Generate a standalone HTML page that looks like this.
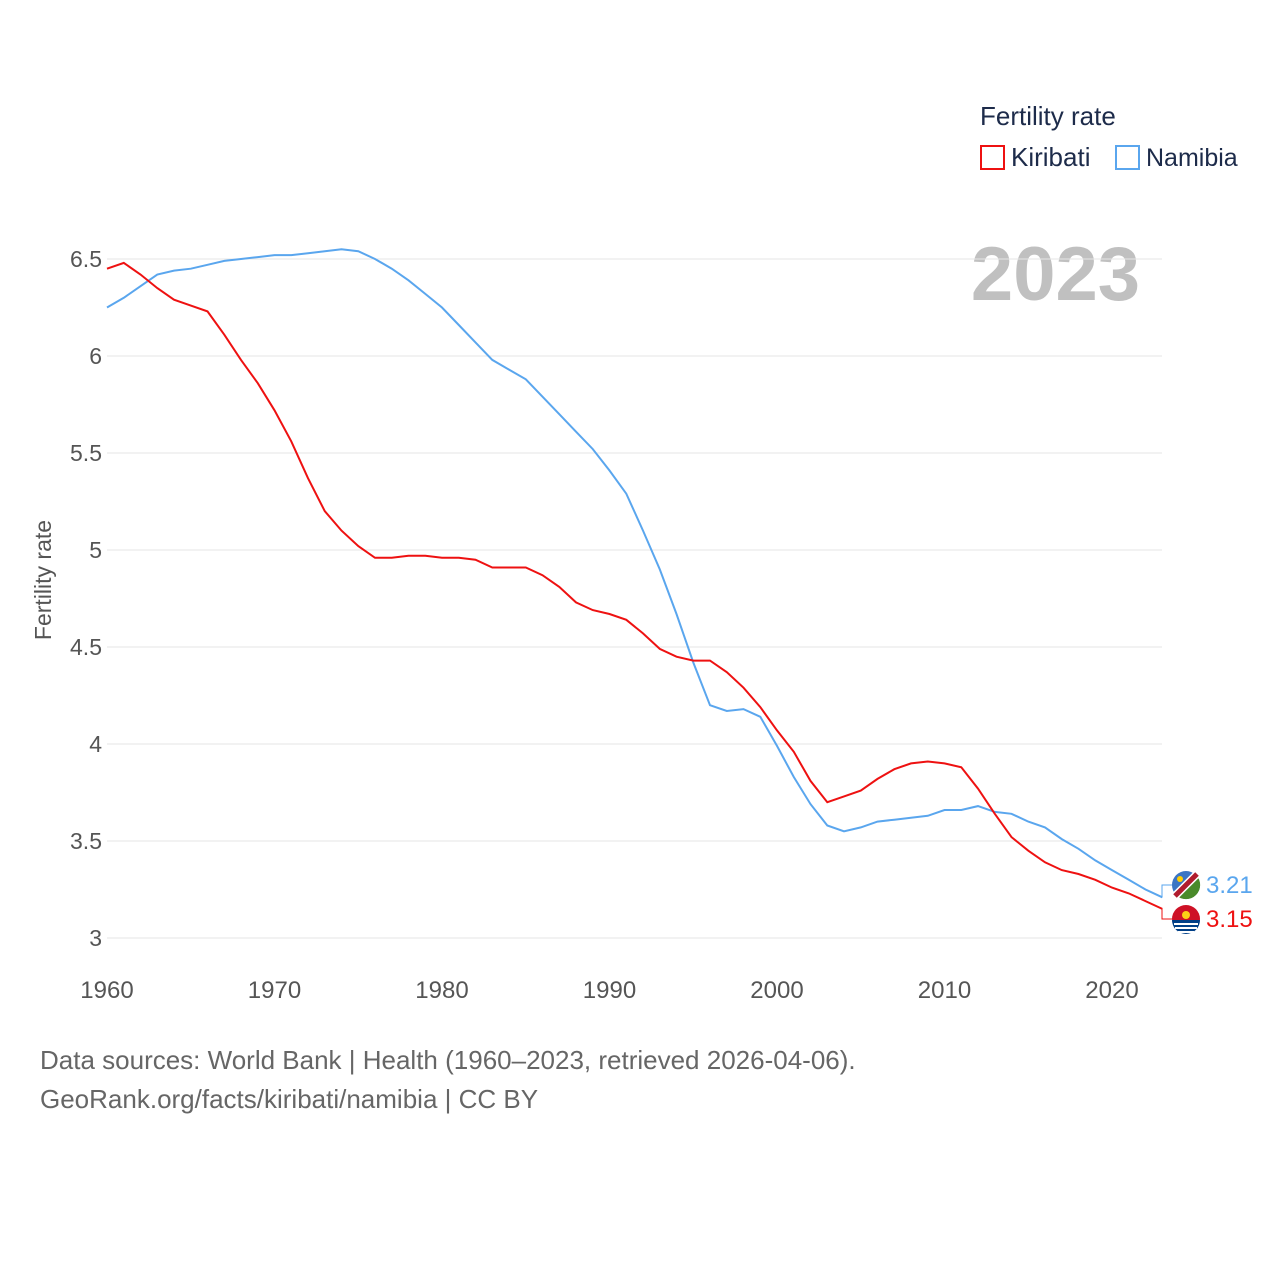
<!DOCTYPE html>
<html><head><meta charset="utf-8"><style>
html,body{margin:0;padding:0;background:#fff;}
body{width:1280px;height:1280px;overflow:hidden;font-family:"Liberation Sans",sans-serif;}
</style></head><body>
<svg id="chart" width="1280" height="1280" xmlns="http://www.w3.org/2000/svg" font-family="Liberation Sans, sans-serif">
<text x="980" y="125" font-size="26" fill="#1d2b4a">Fertility rate</text>
<g><rect x="981" y="146" width="23" height="23" fill="none" stroke="#ee1111" stroke-width="2"/><text x="1011" y="166" font-size="26" fill="#1d2b4a">Kiribati</text></g>
<g><rect x="1116" y="146" width="23" height="23" fill="none" stroke="#5aa6ee" stroke-width="2"/><text x="1146" y="166" font-size="25" fill="#1d2b4a">Namibia</text></g>
<text x="1140" y="300" font-size="76" font-weight="bold" fill="#c0c0c0" text-anchor="end">2023</text>
<g id="grid"></g>
<g id="yticks"></g>
<g id="xticks"></g>
<text transform="translate(51,580) rotate(-90)" font-size="23" fill="#555" text-anchor="middle">Fertility rate</text>
<g id="series"></g>
<g id="ends"></g>
<text x="40" y="1069" font-size="26" fill="#666">Data sources: World Bank | Health (1960–2023, retrieved 2026-04-06).</text>
<text x="40" y="1108" font-size="26" fill="#666">GeoRank.org/facts/kiribati/namibia | CC BY</text>
</svg>
<script>
const years=[];for(let y=1960;y<=2023;y++)years.push(y);
const kiribati=[6.45,6.48,6.42,6.35,6.29,6.26,6.23,6.11,5.98,5.86,5.72,5.56,5.37,5.20,5.10,5.02,4.96,4.96,4.97,4.97,4.96,4.96,4.95,4.91,4.91,4.91,4.87,4.81,4.73,4.69,4.67,4.64,4.57,4.49,4.45,4.43,4.43,4.37,4.29,4.19,4.07,3.96,3.81,3.70,3.73,3.76,3.82,3.87,3.90,3.91,3.90,3.88,3.77,3.64,3.52,3.45,3.39,3.35,3.33,3.30,3.26,3.23,3.19,3.15];
const namibia=[6.25,6.30,6.36,6.42,6.44,6.45,6.47,6.49,6.50,6.51,6.52,6.52,6.53,6.54,6.55,6.54,6.50,6.45,6.39,6.32,6.25,6.16,6.07,5.98,5.93,5.88,5.79,5.70,5.61,5.52,5.41,5.29,5.10,4.90,4.67,4.42,4.20,4.17,4.18,4.14,3.99,3.83,3.69,3.58,3.55,3.57,3.60,3.61,3.62,3.63,3.66,3.66,3.68,3.65,3.64,3.60,3.57,3.51,3.46,3.40,3.35,3.30,3.25,3.21];
const yTicks=[3,3.5,4,4.5,5,5.5,6,6.5];
const xTicks=[1960,1970,1980,1990,2000,2010,2020];
const NS="http://www.w3.org/2000/svg";
const X=v=>107+(v-1960)*(1005/60);
const Y=v=>938-(v-3)*194;
function mk(t,a,p){const e=document.createElementNS(NS,t);for(const k in a)e.setAttribute(k,a[k]);p.appendChild(e);return e;}
const grid=document.getElementById('grid'),yt=document.getElementById('yticks'),xt=document.getElementById('xticks');
yTicks.forEach(v=>{
 const l=mk('line',{x1:107,x2:1162,y1:Y(v),y2:Y(v),stroke:'#e6e6e6','stroke-width':1},grid);
 
 
 const t=mk('text',{x:102,y:Y(v)+8,'font-size':23,fill:'#555','text-anchor':'end'},yt);t.textContent=v;
 
 
});
xTicks.forEach(v=>{
 const t=mk('text',{x:X(v),y:998,'font-size':24,fill:'#555','text-anchor':'middle'},xt);t.textContent=v;
 
 
});
const ser=document.getElementById('series');
[[namibia,'#5aa6ee','namibia-line'],[kiribati,'#ee1111','kiribati-line']].forEach(([d,c,n])=>{
 const p=mk('path',{d:d.map((v,i)=>(i?'L':'M')+X(years[i]).toFixed(1)+','+Y(v).toFixed(1)).join(''),fill:'none',stroke:c,'stroke-width':2},ser);
 
 
});
const ends=document.getElementById('ends');
const lastN=namibia[namibia.length-1],lastK=kiribati[kiribati.length-1];
const ex=X(2023);
mk('path',{d:`M${ex},${Y(lastN)} L1162,${Y(lastN)} L1162,885 L1172,885`,fill:'none',stroke:'#5aa6ee','stroke-width':1},ends);
mk('path',{d:`M${ex},${Y(lastK)} L1162,${Y(lastK)} L1162,919 L1172,919`,fill:'none',stroke:'#ee1111','stroke-width':1},ends);
const fn=mk('g',{},ends);


mk('circle',{cx:1186,cy:885,r:14,fill:'#3a75c4'},fn);
mk('path',{d:'M1196,875 A14,14 0 0 1 1176,895 Z',fill:'#4a8a2a'},fn);
mk('line',{x1:1197,y1:874,x2:1175,y2:896,stroke:'#fff','stroke-width':8},fn);
mk('line',{x1:1197,y1:874,x2:1175,y2:896,stroke:'#b01c2e','stroke-width':5},fn);
mk('circle',{cx:1180,cy:879,r:3,fill:'#ffce00'},fn);
const fk=mk('g',{},ends);


mk('circle',{cx:1186,cy:919,r:14,fill:'#ce1126'},fk);
mk('path',{d:'M1172,920 L1200,920 A14,14 0 0 1 1172,920 Z',fill:'#003f87'},fk);
mk('path',{d:'M1174,924 L1198,924 M1175,928 L1197,928 M1178,932 L1194,932',stroke:'#fff','stroke-width':2},fk);
mk('circle',{cx:1186,cy:915,r:4,fill:'#fcd116'},fk);
const tn=mk('text',{x:1206,y:893,'font-size':24,fill:'#5aa6ee'},ends);tn.textContent=lastN.toFixed(2);


const tk=mk('text',{x:1206,y:927,'font-size':24,fill:'#ee1111'},ends);tk.textContent=lastK.toFixed(2);


</script>
</body></html>
